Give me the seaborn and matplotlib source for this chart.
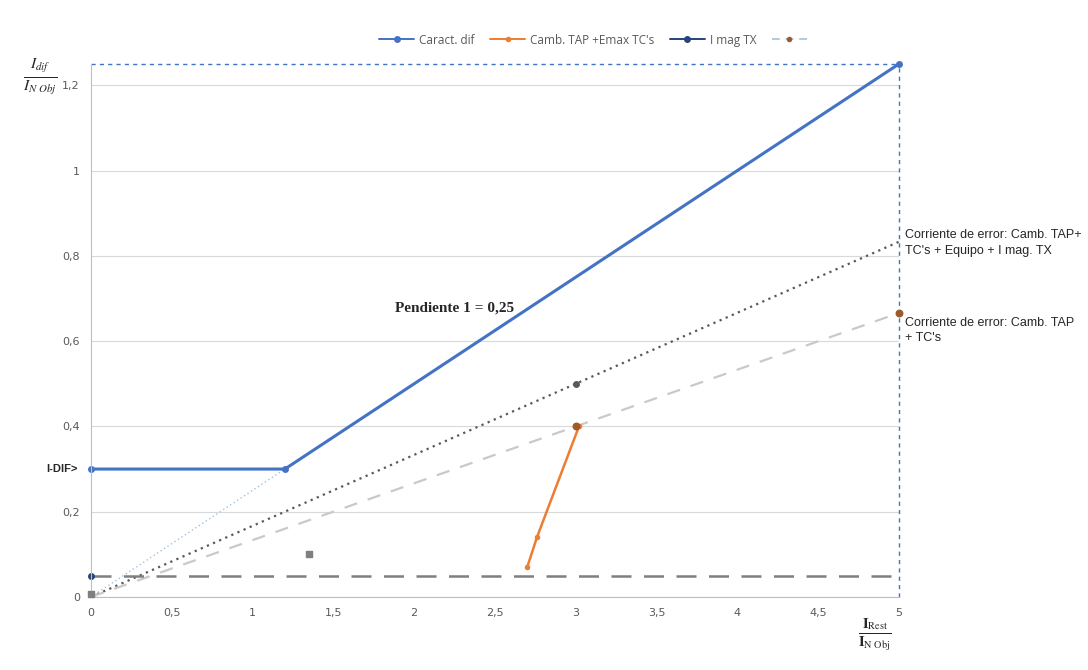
import matplotlib
matplotlib.use("Agg")
import matplotlib.pyplot as plt
import seaborn as sns
import pandas as pd

# data
caract_x = [0, 1.2, 5]
caract_y = [0.3, 0.3, 1.25]
camb_x = [2.7, 2.76, 3.02]
camb_y = [0.07, 0.14, 0.4]
imag_x = [0, 5]
imag_y = [0.05, 0.05]
err_total_x = [0, 3, 5]
err_total_y = [0, 0.5, 0.833]
err_tap_x = [0, 3, 5]
err_tap_y = [0, 0.4, 0.666]
origin_x = [0, 1.2]
origin_y = [0, 0.3]
grey_pts_x = [0, 1.35]
grey_pts_y = [0.008, 0.1]

x_ticks = [0, 0.5, 1, 1.5, 2, 2.5, 3, 3.5, 4, 4.5, 5]
y_ticks = [0, 0.2, 0.4, 0.6, 0.8, 1.0, 1.2]

sns.set_theme(style="white")
plt.rcParams["font.family"] = ["Open Sans", "DejaVu Sans"]
plt.rcParams["mathtext.fontset"] = "stix"

fig = plt.figure(figsize=(10.88, 6.70), dpi=100)
ax = fig.add_axes([0.0836, 0.109, 0.7426, 0.7955])

blue = "#4472C4"
orange = "#ED7D31"
navy = "#264478"
grey = "#7f7f7f"

# faint helper lines
sns.lineplot(x=origin_x, y=origin_y, ax=ax, color="#9dc3e6", linestyle=(0, (1, 2)), lw=1.0)
sns.lineplot(x=err_total_x, y=err_total_y, ax=ax, color="#595959", linestyle=(0, (1, 2)), lw=1.6,
             marker="o", markersize=5, markevery=[1], markerfacecolor="#595959", markeredgewidth=0)
sns.lineplot(x=err_tap_x, y=err_tap_y, ax=ax, color="#c9c9c9", linestyle=(0, (6, 5)), lw=1.6)
sns.lineplot(x=imag_x, y=imag_y, ax=ax, color=grey, linestyle=(0, (8, 5)), lw=1.8)

# dashed blue frame at x=5 and y=1.25
ax.plot([0, 5], [1.25, 1.25], color=blue, linestyle=(0, (3, 3)), lw=1.0, clip_on=False)
ax.plot([5, 5], [0, 1.25], color=blue, linestyle=(0, (3, 3)), lw=1.0, clip_on=False)

df_c = pd.DataFrame({"x": caract_x, "y": caract_y})
sns.lineplot(data=df_c, x="x", y="y", ax=ax, color=blue, lw=2.2, marker="o", markersize=5,
             markeredgewidth=0, label="Caract. dif", clip_on=False)
df_o = pd.DataFrame({"x": camb_x, "y": camb_y})
sns.lineplot(data=df_o, x="x", y="y", ax=ax, color=orange, lw=1.8, marker="o", markersize=4,
             markeredgewidth=0, label="Camb. TAP +Emax TC's")
sns.lineplot(x=[imag_x[0]], y=[imag_y[0]], ax=ax, color=navy, lw=2.0, marker="o", markersize=5,
             markeredgewidth=0, label="I mag TX", clip_on=False)

# brown points on the error lines
ax.scatter([err_tap_x[1], err_tap_x[2]], [err_tap_y[1], err_tap_y[2]], color="#9c5b2d", s=22,
           zorder=5, clip_on=False)
ax.scatter(grey_pts_x, grey_pts_y, color=grey, s=14, marker="s", zorder=5, clip_on=False)

# legend proxy for the unnamed 4th entry
ax.plot([], [], color="#b4c7e7", linestyle=(0, (4, 3)), lw=1.2, marker="o",
        markerfacecolor="#9c5b2d", markeredgewidth=0, markersize=4, label=" ")

ax.set_xlim(0, 5)
ax.set_ylim(0, 1.25)
ax.set_xticks(x_ticks)
ax.set_yticks(y_ticks)
ax.set_xticklabels([f"{t:g}".replace(".", ",") for t in x_ticks], fontsize=8, color="#595959",
                   family=["DejaVu Sans"])
ax.set_yticklabels([f"{t:g}".replace(".", ",") for t in y_ticks], fontsize=8, color="#595959",
                   family=["DejaVu Sans"])
ax.tick_params(axis="both", length=0, pad=8)
ax.yaxis.grid(True, color="#d9d9d9", lw=0.8)
ax.xaxis.grid(False)
ax.set_xlabel("")
ax.set_ylabel("")
for s in ["top", "right"]:
    ax.spines[s].set_visible(False)
for s in ["left", "bottom"]:
    ax.spines[s].set_color("#bfbfbf")
    ax.spines[s].set_linewidth(0.8)

leg = ax.legend(loc="center", bbox_to_anchor=(0.626, 1.045), ncol=4, frameon=False, fontsize=8.5,
                handlelength=3, columnspacing=1.3, handletextpad=0.4, labelcolor="#595959")
for h in leg.get_lines():
    h.set_linewidth(1.4)

# annotations
ax.text(-0.08, 0.3, "I-DIF>", ha="right", va="center", fontsize=8, fontweight="bold",
        family=["Liberation Sans"])
ax.text(2.25, 0.677, "Pendiente 1 = 0,25", ha="center", va="center", fontsize=11,
        fontweight="bold", family=["Liberation Serif"])
ax.text(5.04, 0.83, "Corriente de error: Camb. TAP+\nTC's + Equipo + I mag. TX", ha="left",
        va="center", fontsize=9, family=["Liberation Sans"], linespacing=1.35)
ax.text(5.04, 0.625, "Corriente de error: Camb. TAP\n+ TC's", ha="left", va="center",
        fontsize=9, family=["Liberation Sans"], linespacing=1.35)

fig.text(0.037, 0.885, r"$\frac{I_{dif}}{I_{N\ Obj}}$", ha="center", va="center", fontsize=16)
fig.text(0.804, 0.053, r"$\frac{\mathbf{I}_{\mathrm{Rest}}}{\mathbf{I}_{\mathrm{N\ Obj}}}$",
         ha="center", va="center", fontsize=15)

fig.savefig("out.png", dpi=100)
